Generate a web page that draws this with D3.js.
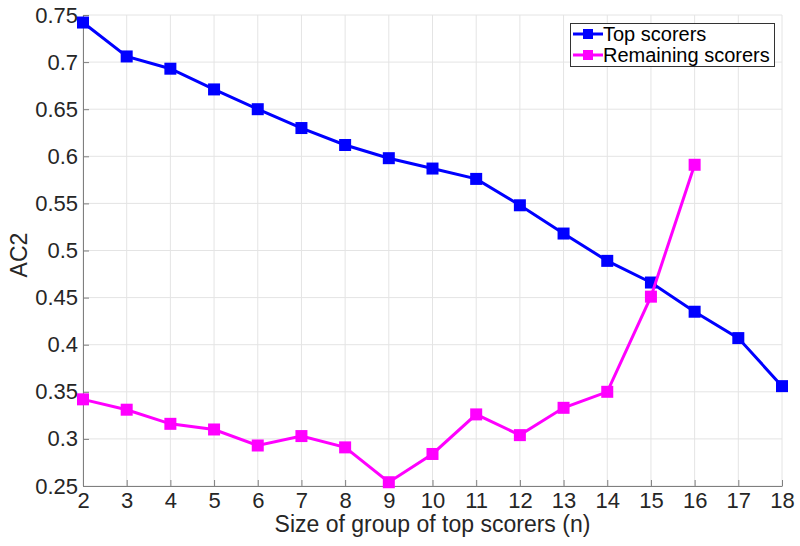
<!doctype html>
<html lang="en">
<head>
	<meta charset="UTF-8">
	<title>AC2 by size of group of top scorers</title>
	<style>
		body { margin: 0; background: #fff; }
		svg { display: block; font-family: "Liberation Sans", Arial, sans-serif; }
		.grid line { stroke: #e4e4e4; stroke-width: 1; }
		.axis path, .axis line { stroke: #7f7f7f; }
		.axis text { fill: #262626; font-size: 22px; }
		.axis-title { fill: #262626; font-size: 23px; }
		.legend text { fill: #000; font-size: 20px; }
	</style>
</head>
<body>
	<script src="https://cdn.jsdelivr.net/npm/d3@7"></script>
	<script>
		var groupSizes = [2, 3, 4, 5, 6, 7, 8, 9, 10, 11, 12, 13, 14, 15, 16, 17, 18];
		var topScorers = [0.742, 0.706, 0.693, 0.671, 0.650, 0.630, 0.612, 0.598, 0.587, 0.576, 0.548, 0.518, 0.489, 0.466, 0.435, 0.407, 0.356];
		var remainingSizes = [2, 3, 4, 5, 6, 7, 8, 9, 10, 11, 12, 13, 14, 15, 16];
		var remainingScorers = [0.342, 0.331, 0.316, 0.310, 0.293, 0.303, 0.291, 0.254, 0.284, 0.326, 0.304, 0.333, 0.350, 0.451, 0.591];
		var yTicks = [0.25, 0.3, 0.35, 0.4, 0.45, 0.5, 0.55, 0.6, 0.65, 0.7, 0.75];
		var seriesNames = ['Top scorers', 'Remaining scorers'];
		var seriesColors = ['#0000ff', '#ff00ff'];

		var w = 800,
			h = 546,
			margin = {top: 15, right: 18, bottom: 60, left: 83};

		var svg = d3.select('body').append('svg')
			.attr('width', w)
			.attr('height', h);

		var xScale = d3.scaleLinear()
			.domain([2, 18])
			.range([margin.left, w - margin.right]);

		var yScale = d3.scaleLinear()
			.domain([0.25, 0.75])
			.range([h - margin.bottom, margin.top]);

		// grid
		var grid = svg.append('g').attr('class', 'grid');
		grid.selectAll('.gx')
			.data(groupSizes)
			.enter().append('line')
			.attr('x1', function(d) { return xScale(d); })
			.attr('x2', function(d) { return xScale(d); })
			.attr('y1', yScale(0.25))
			.attr('y2', yScale(0.75));
		grid.selectAll('.gy')
			.data(yTicks)
			.enter().append('line')
			.attr('y1', function(d) { return yScale(d); })
			.attr('y2', function(d) { return yScale(d); })
			.attr('x1', xScale(2))
			.attr('x2', xScale(18));

		// axes, ticks pointing inward
		var xAxis = d3.axisBottom(xScale)
			.tickValues(groupSizes)
			.tickFormat(d3.format('d'))
			.tickSizeInner(-6)
			.tickSizeOuter(0)
			.tickPadding(6);

		var yAxis = d3.axisLeft(yScale)
			.tickValues(yTicks)
			.tickFormat(function(d) { return String(+d.toFixed(2)); })
			.tickSizeInner(-6)
			.tickSizeOuter(0)
			.tickPadding(5);

		svg.append('g')
			.attr('class', 'axis')
			.attr('transform', 'translate(0,' + yScale(0.25) + ')')
			.call(xAxis);

		svg.append('g')
			.attr('class', 'axis')
			.attr('transform', 'translate(' + xScale(2) + ',0)')
			.call(yAxis);

		svg.append('text')
			.attr('class', 'axis-title')
			.attr('text-anchor', 'middle')
			.attr('x', (xScale(2) + xScale(18)) / 2)
			.attr('y', 532)
			.text('Size of group of top scorers (n)');

		svg.append('text')
			.attr('class', 'axis-title')
			.attr('text-anchor', 'middle')
			.attr('transform', 'translate(27,255) rotate(-90)')
			.text('AC2');

		// series
		var series = [
			{name: seriesNames[0], color: seriesColors[0], xs: groupSizes, ys: topScorers},
			{name: seriesNames[1], color: seriesColors[1], xs: remainingSizes, ys: remainingScorers}
		];

		var line = d3.line()
			.x(function(d) { return xScale(d[0]); })
			.y(function(d) { return yScale(d[1]); });

		series.forEach(function(s) {
			var pts = d3.zip(s.xs, s.ys);
			var g = svg.append('g');
			g.append('path')
				.datum(pts)
				.attr('fill', 'none')
				.attr('stroke', s.color)
				.attr('stroke-width', 3)
				.attr('d', line);
			g.selectAll('rect')
				.data(pts)
				.enter().append('rect')
				.attr('x', function(d) { return xScale(d[0]) - 6; })
				.attr('y', function(d) { return yScale(d[1]) - 6; })
				.attr('width', 12)
				.attr('height', 12)
				.attr('fill', s.color);
		});

		// legend
		var legend = svg.append('g').attr('class', 'legend');
		legend.append('rect')
			.attr('x', 570.5)
			.attr('y', 23.5)
			.attr('width', 204)
			.attr('height', 43)
			.attr('fill', '#fff')
			.attr('stroke', '#333')
			.attr('stroke-width', 1);

		series.forEach(function(s, i) {
			var ly = 34 + i * 21;
			legend.append('line')
				.attr('x1', 573).attr('x2', 603)
				.attr('y1', ly).attr('y2', ly)
				.attr('stroke', s.color)
				.attr('stroke-width', 3);
			legend.append('rect')
				.attr('x', 583).attr('y', ly - 5)
				.attr('width', 10).attr('height', 10)
				.attr('fill', s.color);
			legend.append('text')
				.attr('x', 603)
				.attr('y', ly)
				.attr('dy', '0.35em')
				.text(s.name);
		});
	</script>
</body>
</html>
